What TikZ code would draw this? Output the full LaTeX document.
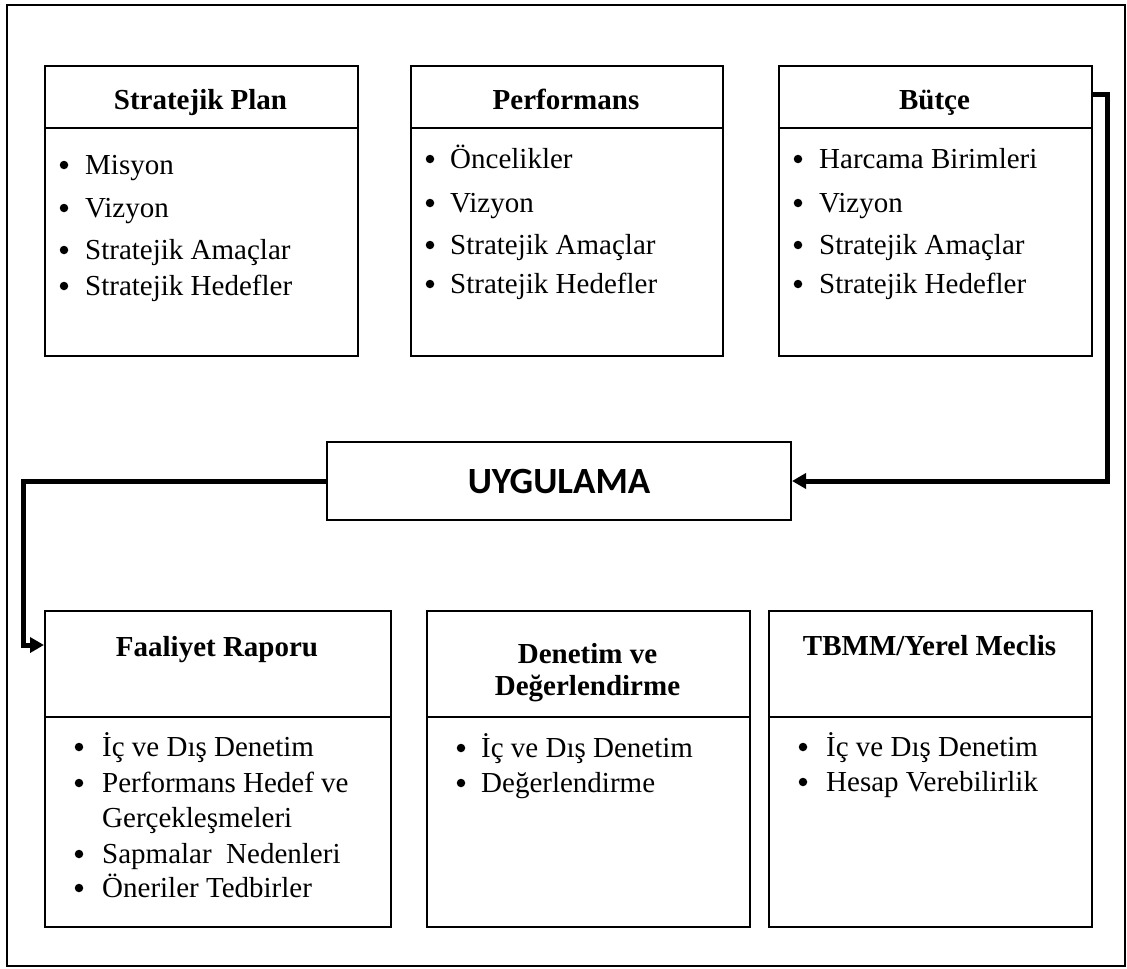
\documentclass[tikz,border=0pt]{standalone}
\usepackage{fontspec}
\setmainfont{Liberation Serif}
\newfontfamily\uygfont{Carlito}
\usetikzlibrary{arrows.meta,calc}
\begin{document}
\begin{tikzpicture}[x=1pt,y=-1pt,
  panel/.style={draw, line width=2pt, rectangle, inner sep=0pt, anchor=north west},
  sepline/.style={line width=2pt},
  ttl/.style={font=\bfseries\fontsize{29}{35}\selectfont, anchor=base, inner sep=0pt},
  bul/.style={circle, fill=black, inner sep=0pt, minimum size=8.5pt},
  itm/.style={font=\fontsize{29}{35}\selectfont, anchor=base west, inner sep=0pt},
  conn/.style={line width=5pt, line join=miter, -{Triangle[length=14pt,width=15pt]}}
]
\useasboundingbox (0,0) rectangle (1127,969);
\draw[line width=1.5pt] (7,5) rectangle (1125,966);

% top panels
\node[panel, minimum width=313pt, minimum height=290pt] (sp) at (44,65) {};
\node[panel, minimum width=312pt, minimum height=290pt] (pf) at (410,65) {};
\node[panel, minimum width=313pt, minimum height=290pt] (bt) at (778,65) {};
\draw[sepline] ($(sp.north west)+(0,63)$) -- ($(sp.north east)+(0,63)$);
\draw[sepline] ($(pf.north west)+(0,63)$) -- ($(pf.north east)+(0,63)$);
\draw[sepline] ($(bt.north west)+(0,63)$) -- ($(bt.north east)+(0,63)$);

\node[ttl] (spt) at (200.5,109) {Stratejik Plan};
\node[ttl] (pft) at (566,109) {Performans};
\node[ttl] (btt) at (934.5,109) {Bütçe};

\node[bul] (sp1b) at (64,165) {}; \node[itm] (sp1) at (85,174) {Misyon};
\node[bul] (sp2b) at (64,208) {}; \node[itm] (sp2) at (85,217) {Vizyon};
\node[bul] (sp3b) at (64,250) {}; \node[itm] (sp3) at (85,259) {Stratejik Amaçlar};
\node[bul] (sp4b) at (64,286) {}; \node[itm] (sp4) at (85,295) {Stratejik Hedefler};

\node[bul] (pf1b) at (430,159) {}; \node[itm] (pf1) at (450,168) {Öncelikler};
\node[bul] (pf2b) at (430,203) {}; \node[itm] (pf2) at (450,212) {Vizyon};
\node[bul] (pf3b) at (430,245) {}; \node[itm] (pf3) at (450,254) {Stratejik Amaçlar};
\node[bul] (pf4b) at (430,284) {}; \node[itm] (pf4) at (450,293) {Stratejik Hedefler};

\node[bul] (bt1b) at (798,159) {}; \node[itm] (bt1) at (819,168) {Harcama Birimleri};
\node[bul] (bt2b) at (798,203) {}; \node[itm] (bt2) at (819,212) {Vizyon};
\node[bul] (bt3b) at (798,245) {}; \node[itm] (bt3) at (819,254) {Stratejik Amaçlar};
\node[bul] (bt4b) at (798,284) {}; \node[itm] (bt4) at (819,293) {Stratejik Hedefler};

% middle
\node[draw, line width=2pt, rectangle, minimum width=464pt, minimum height=78pt, inner sep=0pt,
      font=\uygfont\bfseries\fontsize{37}{40}\selectfont] (uyg) at (559,481) {UYGULAMA};

% bottom panels
\node[panel, minimum width=346pt, minimum height=316pt] (fr) at (44,610) {};
\node[panel, minimum width=323pt, minimum height=316pt] (dd) at (426,610) {};
\node[panel, minimum width=323pt, minimum height=316pt] (tb) at (768,610) {};
\draw[sepline] ($(fr.north west)+(0,107)$) -- ($(fr.north east)+(0,107)$);
\draw[sepline] ($(dd.north west)+(0,107)$) -- ($(dd.north east)+(0,107)$);
\draw[sepline] ($(tb.north west)+(0,107)$) -- ($(tb.north east)+(0,107)$);

\node[ttl] (frt) at (217,656) {Faaliyet Raporu};
\node[ttl] (ddt1) at (587.5,663) {Denetim ve};
\node[ttl] (ddt2) at (587.5,695) {Değerlendirme};
\node[ttl] (tbt) at (929.5,655) {TBMM/Yerel Meclis};

\node[bul] (fr1b) at (79,747) {}; \node[itm] (fr1) at (102,756) {İç ve Dış Denetim};
\node[bul] (fr2b) at (79,783) {}; \node[itm] (fr2) at (102,792) {Performans Hedef ve};
\node[itm] (fr2c) at (102,827) {Gerçekleşmeleri};
\node[bul] (fr3b) at (79,854) {}; \node[itm] (fr3) at (102,863) {Sapmalar\ \ Nedenleri};
\node[bul] (fr4b) at (79,888) {}; \node[itm] (fr4) at (102,897) {Öneriler Tedbirler};

\node[bul] (dd1b) at (461,748) {}; \node[itm] (dd1) at (481,757) {İç ve Dış Denetim};
\node[bul] (dd2b) at (461,783) {}; \node[itm] (dd2) at (481,792) {Değerlendirme};

\node[bul] (tb1b) at (803,747) {}; \node[itm] (tb1) at (826,756) {İç ve Dış Denetim};
\node[bul] (tb2b) at (803,782) {}; \node[itm] (tb2) at (826,791) {Hesap Verebilirlik};

% connectors
\coordinate (cr) at (1107,94);
\coordinate (cl) at (23,645);
\draw[conn] ($(bt.north east)+(0,29)$) -- (cr) |- (uyg.east);
\draw[conn] (uyg.west) -| (cl) -- ($(fr.north west)+(0,35)$);
\end{tikzpicture}
\end{document}
